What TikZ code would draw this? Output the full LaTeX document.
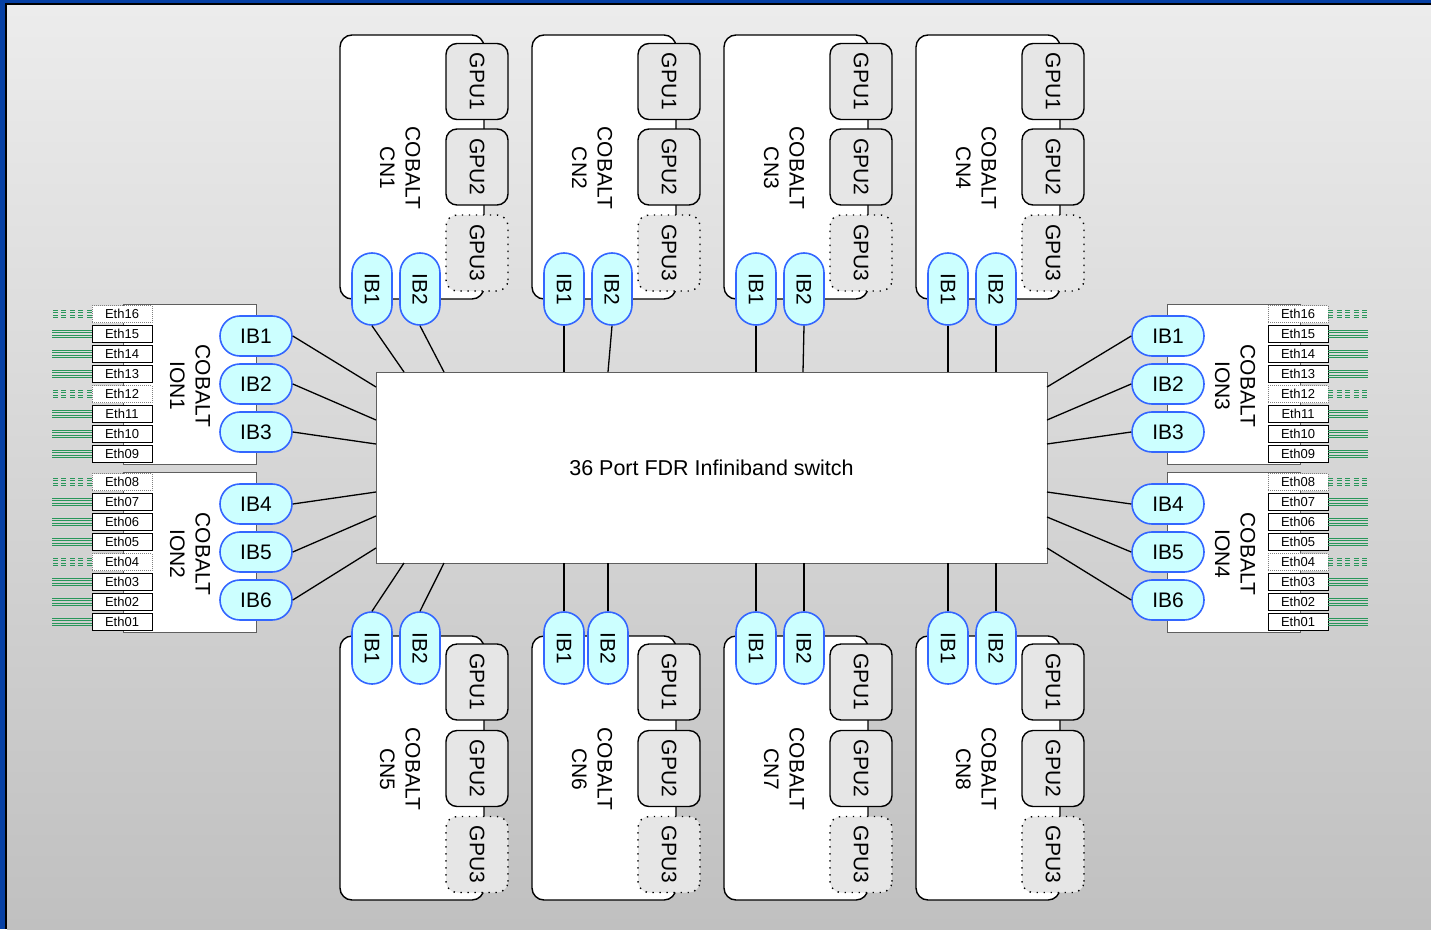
\documentclass[tikz,border=0pt]{standalone}
\usepackage{fontspec}
\setmainfont{Liberation Sans}
\usetikzlibrary{calc}

\definecolor{frameblue}{RGB}{6,64,164}
\definecolor{bgtop}{RGB}{236,236,236}
\definecolor{bgbot}{RGB}{192,192,192}
\definecolor{ibfill}{RGB}{204,255,255}
\definecolor{ibline}{RGB}{51,102,255}
\definecolor{gpufill}{RGB}{230,230,230}
\definecolor{ethgreen}{RGB}{40,150,90}
\definecolor{boxgray}{RGB}{95,95,95}

\tikzset{
  bigfont/.style={font=\fontsize{21}{25.5}\selectfont},
  smallfont/.style={font=\fontsize{13}{14}\selectfont},
  wire/.style={draw=black, line width=1.3pt},
  switchbox/.style={draw=boxgray, line width=1pt, fill=white, minimum width=671pt,
    minimum height=191pt, inner sep=0pt, font=\fontsize{21.5}{25}\selectfont},
  cnbox/.style={draw=black, line width=1.4pt, fill=white, rounded corners=12pt,
    minimum width=144pt, minimum height=264pt, inner sep=0pt},
  cnlabel/.style={bigfont, rotate=-90, align=center, inner sep=0pt},
  gpu/.style={draw=black, line width=1.4pt, fill=gpufill, rounded corners=11pt, rotate=-90,
    minimum width=76pt, minimum height=62pt, inner sep=0pt, bigfont},
  gpuspare/.style={gpu, dash pattern=on 1.4pt off 5.6pt},
  ibv/.style={draw=ibline, line width=1.6pt, fill=ibfill, rounded corners=19.9pt, rotate=-90,
    minimum width=72pt, minimum height=40pt, inner sep=0pt, bigfont},
  ibh/.style={draw=ibline, line width=1.6pt, fill=ibfill, rounded corners=19.9pt,
    minimum width=72pt, minimum height=40pt, inner sep=0pt, bigfont},
  ionbox/.style={draw=boxgray, line width=1pt, fill=white, minimum width=133pt,
    minimum height=160pt, inner sep=0pt},
  eth/.style={draw=black, line width=0.8pt, fill=white, minimum width=60pt,
    minimum height=17pt, inner sep=0pt, smallfont},
  ethspare/.style={eth, draw=gray, dash pattern=on 0.8pt off 1.2pt},
  greensolid/.style={draw=ethgreen, line width=1.3pt},
  greendash/.style={draw=ethgreen, line width=1.3pt, dash pattern=on 5pt off 3.5pt},
}

\begin{document}
\begin{tikzpicture}[x=1pt,y=-1pt]
\useasboundingbox (0,0) rectangle (1431,929);

% frame and graded background
\fill[frameblue] (0,0) rectangle (1431,929);
\fill[black] (5,3) rectangle (1431,929);
\shade[top color=bgtop, bottom color=bgbot] (7,5) rectangle (1431,929);

% central switch
\node[switchbox] (sw) at (711.5,467.5) {36 Port FDR Infiniband switch};

% compute nodes above the switch
\foreach \i/\n/\pa/\pb/\q in {0/1/404/444/420, 1/2/564/608/612, 2/3/756/803/804, 3/4/948/996/996} {
  \pgfmathsetmacro\X{340+192*\i}
  \node[cnbox] (cn\n) at (\X+72,167) {};
  \node[cnlabel] (cn\n lbl) at (\X+60,168) {COBALT\\CN\n};
  \node[gpu] (cn\n g1) at (\X+137,81.5) {GPU1};
  \node[gpu] (cn\n g2) at (\X+137,167) {GPU2};
  \node[gpuspare] (cn\n g3) at (\X+137,253) {GPU3};
  \node[ibv] (cn\n ib1) at (\X+32,289) {IB1};
  \node[ibv] (cn\n ib2) at (\q,289) {IB2};
  \coordinate (cn\n sa) at (\pa,372);
  \coordinate (cn\n sb) at (\pb,372);
  \draw[wire] (cn\n ib1.east) -- (cn\n sa);
  \draw[wire] (cn\n ib2.east) -- (cn\n sb);
}

% compute nodes below the switch
\foreach \i/\n/\pa/\pb/\q in {0/5/404/444/420, 1/6/564/608/608, 2/7/756/804/804, 3/8/948/996/996} {
  \pgfmathsetmacro\X{340+192*\i}
  \node[cnbox] (cn\n) at (\X+72,768) {};
  \node[cnlabel] (cn\n lbl) at (\X+60,769) {COBALT\\CN\n};
  \node[gpu] (cn\n g1) at (\X+137,682) {GPU1};
  \node[gpu] (cn\n g2) at (\X+137,768.5) {GPU2};
  \node[gpuspare] (cn\n g3) at (\X+137,854.5) {GPU3};
  \node[ibv] (cn\n ib1) at (\X+32,648) {IB1};
  \node[ibv] (cn\n ib2) at (\q,648) {IB2};
  \coordinate (cn\n sa) at (\pa,563);
  \coordinate (cn\n sb) at (\pb,563);
  \draw[wire] (cn\n ib1.west) -- (cn\n sa);
  \draw[wire] (cn\n ib2.west) -- (cn\n sb);
}

% I/O nodes on the left
\foreach \n/\cy/\eb/\ia/\ib/\ic/\ya/\yb/\yc in
  {1/384/16/1/2/3/387/420/444, 2/552/8/4/5/6/492/516/548} {
  \node[ionbox] (ion\n) at (189.5,\cy) {};
  \node[cnlabel] (ion\n lbl) at (190,\cy+2) {COBALT\\ION\n};
  \foreach \k/\st/\gs in {0/ethspare/greendash, 1/eth/greensolid, 2/eth/greensolid,
      3/eth/greensolid, 4/ethspare/greendash, 5/eth/greensolid, 6/eth/greensolid,
      7/eth/greensolid} {
    \pgfmathtruncatemacro\num{\eb-\k}
    \node[\st] (ion\n e\num) at (122,\cy-70+20*\k) {Eth\ifnum\num<10 0\fi\num};
    \foreach \o in {-3.6,-1.2,1.2,3.6}
      \draw[\gs] ($(ion\n e\num.west)+(0,\o)$) -- ++(-40,0);
  }
  \node[ibh] (ion\n ib\ia) at (256,\cy-48) {IB\ia};
  \node[ibh] (ion\n ib\ib) at (256,\cy) {IB\ib};
  \node[ibh] (ion\n ib\ic) at (256,\cy+48) {IB\ic};
  \coordinate (ion\n sa) at (376,\ya);
  \coordinate (ion\n sb) at (376,\yb);
  \coordinate (ion\n sc) at (376,\yc);
  \draw[wire] (ion\n ib\ia.east) -- (ion\n sa);
  \draw[wire] (ion\n ib\ib.east) -- (ion\n sb);
  \draw[wire] (ion\n ib\ic.east) -- (ion\n sc);
}

% I/O nodes on the right
\foreach \n/\cy/\eb/\ia/\ib/\ic/\ya/\yb/\yc in
  {3/384/16/1/2/3/387/420/444, 4/552/8/4/5/6/492/517/548} {
  \node[ionbox] (ion\n) at (1234,\cy) {};
  \node[cnlabel] (ion\n lbl) at (1235,\cy+2) {COBALT\\ION\n};
  \foreach \k/\st/\gs in {0/ethspare/greendash, 1/eth/greensolid, 2/eth/greensolid,
      3/eth/greensolid, 4/ethspare/greendash, 5/eth/greensolid, 6/eth/greensolid,
      7/eth/greensolid} {
    \pgfmathtruncatemacro\num{\eb-\k}
    \node[\st] (ion\n e\num) at (1298,\cy-70+20*\k) {Eth\ifnum\num<10 0\fi\num};
    \foreach \o in {-3.6,-1.2,1.2,3.6}
      \draw[\gs] ($(ion\n e\num.east)+(0,\o)$) -- ++(40,0);
  }
  \node[ibh] (ion\n ib\ia) at (1168,\cy-48) {IB\ia};
  \node[ibh] (ion\n ib\ib) at (1168,\cy) {IB\ib};
  \node[ibh] (ion\n ib\ic) at (1168,\cy+48) {IB\ic};
  \coordinate (ion\n sa) at (1047,\ya);
  \coordinate (ion\n sb) at (1047,\yb);
  \coordinate (ion\n sc) at (1047,\yc);
  \draw[wire] (ion\n ib\ia.west) -- (ion\n sa);
  \draw[wire] (ion\n ib\ib.west) -- (ion\n sb);
  \draw[wire] (ion\n ib\ic.west) -- (ion\n sc);
}
\end{tikzpicture}
\end{document}
